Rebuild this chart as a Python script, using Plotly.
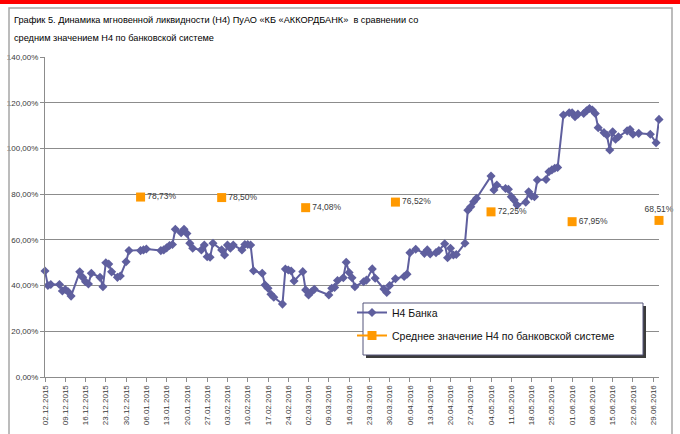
import plotly.graph_objects as go

# ---------------- data ----------------
bank_dates = [
    "2015-12-02", "2015-12-03", "2015-12-04", "2015-12-07", "2015-12-08", "2015-12-09", "2015-12-10", "2015-12-11",
    "2015-12-14", "2015-12-15", "2015-12-16", "2015-12-17", "2015-12-18", "2015-12-21", "2015-12-22", "2015-12-23",
    "2015-12-24", "2015-12-25", "2015-12-27", "2015-12-28", "2015-12-30", "2015-12-31", "2016-01-04", "2016-01-05",
    "2016-01-06", "2016-01-11", "2016-01-12", "2016-01-13", "2016-01-14", "2016-01-15", "2016-01-16", "2016-01-18",
    "2016-01-19", "2016-01-20", "2016-01-21", "2016-01-22", "2016-01-25", "2016-01-26", "2016-01-27", "2016-01-28",
    "2016-01-29", "2016-02-01", "2016-02-02", "2016-02-03", "2016-02-04", "2016-02-05", "2016-02-08", "2016-02-09",
    "2016-02-10", "2016-02-11", "2016-02-12", "2016-02-15", "2016-02-16", "2016-02-17", "2016-02-18", "2016-02-19",
    "2016-02-22", "2016-02-23", "2016-02-24", "2016-02-25", "2016-02-26", "2016-02-29", "2016-03-01", "2016-03-02",
    "2016-03-03", "2016-03-04", "2016-03-09", "2016-03-10", "2016-03-11", "2016-03-12", "2016-03-14", "2016-03-15",
    "2016-03-16", "2016-03-17", "2016-03-18", "2016-03-21", "2016-03-22", "2016-03-24", "2016-03-25", "2016-03-28",
    "2016-03-29", "2016-03-30", "2016-04-01", "2016-04-04", "2016-04-05", "2016-04-06", "2016-04-08", "2016-04-11",
    "2016-04-12", "2016-04-13", "2016-04-15", "2016-04-16", "2016-04-18", "2016-04-19", "2016-04-20", "2016-04-21",
    "2016-04-22", "2016-04-25", "2016-04-26", "2016-04-27", "2016-04-28", "2016-04-29", "2016-05-04", "2016-05-05",
    "2016-05-06", "2016-05-09", "2016-05-10", "2016-05-11", "2016-05-12", "2016-05-13", "2016-05-16", "2016-05-17",
    "2016-05-18", "2016-05-19", "2016-05-20", "2016-05-23", "2016-05-24", "2016-05-25", "2016-05-26", "2016-05-27",
    "2016-05-29", "2016-05-31", "2016-06-01", "2016-06-02", "2016-06-03", "2016-06-05", "2016-06-06", "2016-06-07",
    "2016-06-08", "2016-06-09", "2016-06-10", "2016-06-12", "2016-06-13", "2016-06-14", "2016-06-15", "2016-06-16",
    "2016-06-17", "2016-06-20", "2016-06-21", "2016-06-22", "2016-06-24", "2016-06-28", "2016-06-30", "2016-07-01",
]
bank_values = [
    46.4, 40.0, 40.5, 40.5, 37.6, 38.3, 37.3, 35.4,
    46.0, 43.6, 41.7, 40.7, 45.4, 43.6, 39.5, 50.0,
    49.4, 46.0, 43.6, 44.2, 50.4, 55.3, 55.3, 55.6,
    56.0, 55.3, 55.6, 56.5, 57.5, 58.0, 64.6, 63.1,
    64.6, 62.8, 58.5, 56.3, 55.6, 57.7, 52.6, 52.4,
    58.5, 55.6, 53.4, 57.7, 56.3, 57.7, 55.6, 58.0,
    58.0, 57.7, 46.5, 45.4, 40.2, 38.8, 36.2, 34.9,
    31.9, 47.2, 46.8, 46.4, 42.0, 46.1, 38.1, 35.9,
    37.3, 38.4, 35.9, 38.8, 39.2, 42.2, 43.4, 50.2,
    45.7, 43.4, 39.5, 41.7, 42.4, 47.3, 43.2, 38.5,
    37.0, 40.0, 43.0, 44.0, 45.0, 54.4, 55.9, 54.1,
    55.6, 53.8, 54.4, 55.3, 58.3, 52.2, 56.3, 53.4,
    53.6, 58.5, 73.0, 74.5, 76.7, 78.2, 87.9, 81.8,
    84.0, 82.5, 82.1, 78.9, 77.4, 75.2, 76.5, 81.0,
    79.2, 78.9, 86.2, 86.4, 89.8, 90.6, 91.3, 91.7,
    114.6, 115.6, 115.6, 113.9, 115.0, 115.3, 116.5, 117.5,
    116.8, 115.3, 109.1, 106.9, 105.9, 99.3, 107.3, 104.0,
    105.1, 107.7, 108.3, 106.2, 106.6, 106.2, 102.5, 112.7,
]

avg_dates = ["2016-01-04", "2016-02-01", "2016-03-01", "2016-04-01", "2016-05-04", "2016-06-01", "2016-07-01"]
avg_values = [78.73, 78.50, 74.08, 76.52, 72.25, 67.95, 68.51]
avg_labels = ["78,73%", "78,50%", "74,08%", "76,52%", "72,25%", "67,95%", "68,51%"]

y_tick_values = [0, 20, 40, 60, 80, 100, 120, 140]
y_tick_labels = ["0,00%", "20,00%", "40,00%", "60,00%", "80,00%", "100,00%", "120,00%", "140,00%"]

bank_name = "Н4 Банка"
avg_name = "Среднее значение Н4 по банковской системе"
title_line1 = "График 5. Динамика мгновенной ликвидности (Н4) ПуАО «КБ «АККОРДБАНК»  в сравнении со"
title_line2 = "средним значением Н4 по банковской системе"

# ---------------- layout geometry ----------------
W, H = 680, 434
L, R, T, B = 45, 21, 57, 57
PW, PH = W - L - R, H - T - B


def px(x):
    return (x - L) / PW


def py(y):
    return (H - B - y) / PH


BANK_COLOR = "#5F5F9E"
AVG_COLOR = "#FF9900"
GRID = "#8C8C8C"
TXT = "#3A3A3A"

fig = go.Figure()

fig.add_trace(go.Scatter(
    x=bank_dates, y=bank_values, name=bank_name, mode="lines+markers",
    line=dict(color=BANK_COLOR, width=2),
    marker=dict(symbol="diamond", size=7, color=BANK_COLOR),
    cliponaxis=False, legendgroup="a",
))

# isolated points (gaps between them) so the legend still shows a line segment
avg_x, avg_y, avg_t, avg_pos = [], [], [], []
for i, (d, v, t) in enumerate(zip(avg_dates, avg_values, avg_labels)):
    avg_x += [d, None]
    avg_y += [v, None]
    avg_t += [t, ""]
    pos = "top center" if i == len(avg_dates) - 1 else "middle right"
    avg_pos += [pos, "middle right"]

fig.add_trace(go.Scatter(
    x=avg_x, y=avg_y, name=avg_name, mode="lines+markers+text",
    line=dict(color=AVG_COLOR, width=2), connectgaps=False,
    marker=dict(symbol="square", size=9, color=AVG_COLOR),
    text=avg_t, textposition=avg_pos,
    textfont=dict(size=8.5, color=TXT, family="Liberation Sans, Arial"),
    cliponaxis=False, legendgroup="b",
))

shapes = [
    # red band at the very top
    dict(type="rect", xref="paper", yref="paper", x0=px(0), x1=px(W), y0=py(0), y1=py(4),
         fillcolor="#FF0000", line=dict(width=0), layer="above"),
    # outer frame
    dict(type="rect", xref="paper", yref="paper", x0=px(9), x1=px(672), y0=py(8), y1=py(440),
         fillcolor="rgba(0,0,0,0)", line=dict(color="#A6A6A6", width=1.5), layer="above"),
    # legend shadow and box
    dict(type="rect", xref="paper", yref="paper", x0=px(366), x1=px(646), y0=py(306), y1=py(358),
         fillcolor="#3C3C3C", line=dict(width=0), layer="above"),
    dict(type="rect", xref="paper", yref="paper", x0=px(363), x1=px(643), y0=py(303), y1=py(355),
         fillcolor="white", line=dict(color="#55557A", width=1), layer="above"),
]

TITLE_FONT = dict(size=9.2, color="#000000", family="Liberation Sans, Arial, sans-serif")
annotations = [
    dict(text=title_line1, xref="paper", yref="paper", x=px(12), y=py(20), xanchor="left", yanchor="middle",
         showarrow=False, font=TITLE_FONT),
    dict(text=title_line2, xref="paper", yref="paper", x=px(12), y=py(38), xanchor="left", yanchor="middle",
         showarrow=False, font=TITLE_FONT),
]

fig.update_layout(
    width=W, height=H, autosize=False,
    margin=dict(l=L, r=R, t=T, b=B, pad=0),
    paper_bgcolor="white", plot_bgcolor="white",
    font=dict(family="Liberation Sans, Arial, sans-serif", size=8, color=TXT),
    shapes=shapes, annotations=annotations,
    showlegend=True,
    legend=dict(
        x=px(352), y=py(298), xanchor="left", yanchor="top",
        bgcolor="rgba(0,0,0,0)", borderwidth=0,
        font=dict(size=10.5, color="#111111", family="Liberation Sans, Arial, sans-serif"),
        traceorder="grouped", tracegroupgap=4, itemwidth=30,
    ),
    xaxis=dict(
        type="date", range=["2015-12-02", "2016-07-01"],
        tick0="2015-12-02", dtick=7 * 86400000, tickformat="%d.%m.%Y", tickangle=-90,
        ticks="outside", ticklen=4, tickcolor=GRID, showgrid=False,
        showline=True, linecolor=GRID, linewidth=1, automargin=False,
        tickfont=dict(size=8, color=TXT),
    ),
    yaxis=dict(
        range=[0, 140], tickvals=y_tick_values, ticktext=y_tick_labels,
        ticks="outside", ticklen=4, tickcolor=GRID, showgrid=True, gridcolor=GRID, gridwidth=1,
        showline=True, linecolor=GRID, linewidth=1, zeroline=False, automargin=False,
        tickfont=dict(size=8, color=TXT),
    ),
)

fig.write_html("out.html", config={"displayModeBar": False},
               post_script="document.body.style.margin='0px';")
